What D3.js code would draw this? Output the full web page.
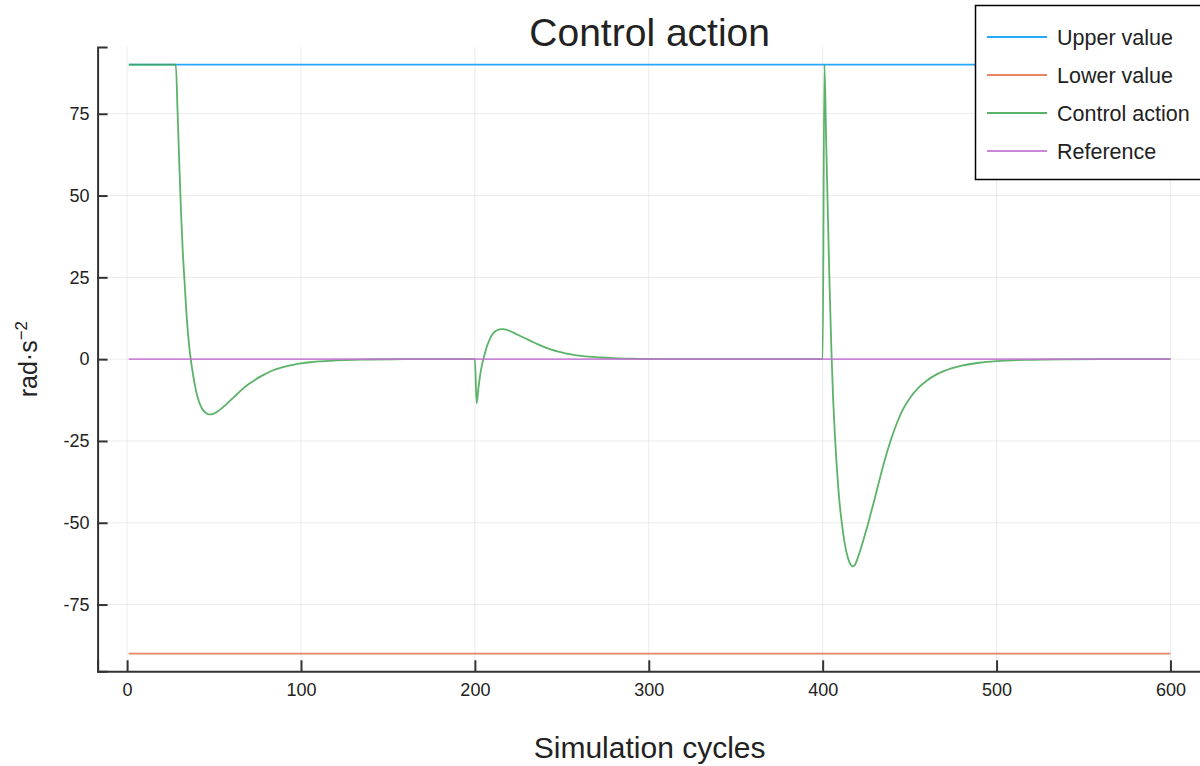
<!DOCTYPE html>
<html>
<head>
<meta charset="utf-8">
<script src="https://cdn.jsdelivr.net/npm/d3@7"></script>
<style>
  html, body { margin: 0; padding: 0; background: #fff; }
  svg { display: block; font-family: "Liberation Sans", Arial, Helvetica, sans-serif; }
</style>
</head>
<body>
<svg id="chart" width="1200" height="766"></svg>
<script>
// Constant bounds and set-point over the whole run
const boundCycles = [1, 600];
const upperValues = [90, 90];
const lowerValues = [-90, -90];
const referenceValues = [0, 0];

// Control action samples (cycle, rad·s⁻²)
const controlCycles = [
  1, 28, 29, 30, 31, 32, 33, 34, 35, 36, 37, 38, 39, 40, 41, 42, 43, 44, 45, 46, 47, 48, 49, 50,
  52, 54, 56, 58, 60, 63, 66, 69, 72, 76, 80, 84, 88, 92, 96, 100, 105, 110, 120, 130, 140, 160, 180,
  200, 201, 202, 203, 204, 205, 206, 207, 208, 209, 210, 212, 214, 216, 218, 220, 224, 228, 232, 236,
  240, 244, 248, 252, 256, 260, 265, 272, 280, 290, 300, 320,
  400, 401, 402, 403, 404, 405, 406, 407, 408, 409, 410, 411, 412, 413, 414, 415, 416, 417, 418, 419,
  420, 422, 424, 426, 428, 430, 433, 436, 439, 442, 446, 450, 455, 460, 465, 470, 480, 490, 500, 520,
  540, 560, 600
];
const controlValues = [
  90, 90, 76, 60, 45, 33, 24, 15, 8, 2.5, -1.5, -5, -8, -10.5, -12.4, -13.9, -15, -15.8, -16.3, -16.7, -16.9, -16.9, -16.8, -16.6,
  -16, -15.2, -14.3, -13.3, -12.3, -10.8, -9.3, -8, -6.9, -5.5, -4.4, -3.4, -2.7, -2.1, -1.65, -1.3, -0.95, -0.7, -0.4, -0.2, -0.1, -0.02, 0,
  0, -13.5, -9, -5, -2, 0.3, 2.2, 4, 5.4, 6.6, 7.5, 8.6, 9.1, 9.2, 9.0, 8.6, 7.6, 6.6, 5.6, 4.6,
  3.7, 2.9, 2.3, 1.8, 1.4, 1.05, 0.75, 0.5, 0.3, 0.15, 0.07, 0,
  0, 90, 67, 44, 22, 3, -12, -23, -32, -39.5, -45.5, -50, -54, -57.2, -59.7, -61.5, -62.7, -63.3, -63.2, -62.4,
  -61, -57.8, -54.2, -50.5, -46.5, -42.5, -36.2, -30.3, -25, -20.5, -15.5, -12, -8.8, -6.5, -4.8, -3.6, -2.0, -1.1, -0.6, -0.2,
  -0.05, 0, 0
];

const seriesNames = ["Upper value", "Lower value", "Control action", "Reference"];
const seriesColors = ["#009AFA", "#E36F47", "#3EA44E", "#C371D2"];

const xTicks = [0, 100, 200, 300, 400, 500, 600];
const yTicks = [-75, -50, -25, 0, 25, 50, 75];

(function draw() {
  const svg = d3.select("#chart");

  // Plot frame
  const frameLeft = 97.6, frameRight = 1201.7, frameTop = 47, frameBottom = 671.3;

  // Data extents widened by 3% on each side
  const x = d3.scaleLinear().domain([1 - 0.03 * 599, 600 + 0.03 * 599]).range([frameLeft, frameRight]);
  const y = d3.scaleLinear().domain([-95.4, 95.4]).range([frameBottom, frameTop]);

  // Grid
  const grid = svg.append("g").attr("stroke", "#000").attr("stroke-opacity", 0.08).attr("stroke-width", 1);
  grid.selectAll("line.gx").data(xTicks).join("line").attr("class", "gx")
    .attr("x1", d => x(d)).attr("x2", d => x(d)).attr("y1", frameTop).attr("y2", frameBottom);
  grid.selectAll("line.gy").data(yTicks).join("line").attr("class", "gy")
    .attr("x1", frameLeft).attr("x2", frameRight).attr("y1", d => y(d)).attr("y2", d => y(d));

  // Axes with inward ticks
  const xAxis = d3.axisBottom(x).tickValues(xTicks).tickSize(-11).tickPadding(12).tickFormat(d3.format("d"));
  const yAxis = d3.axisLeft(y).tickValues(yTicks).tickSize(-10).tickPadding(8).tickFormat(d3.format("d"));

  const gx = svg.append("g").attr("transform", `translate(0,${frameBottom})`).call(xAxis);
  const gy = svg.append("g").attr("transform", `translate(${frameLeft},0)`).call(yAxis);
  [gx, gy].forEach(g => {
    g.select(".domain").attr("stroke", "#333").attr("stroke-width", 2);
    g.selectAll(".tick line").attr("stroke", "#333").attr("stroke-width", 2);
    g.selectAll(".tick text").attr("fill", "#222").attr("font-size", 18)
      .attr("font-family", "Liberation Sans, Arial, sans-serif");
  });
  gy.selectAll(".tick text").text(d => d < 0 ? "-" + Math.abs(d) : d);

  // Series lines
  const line = d3.line().x(d => x(d[0])).y(d => y(d[1]));
  const lineSmooth = d3.line().x(d => x(d[0])).y(d => y(d[1])).curve(d3.curveMonotoneX);

  const series = [
    { pts: d3.zip(boundCycles, upperValues), gen: line },
    { pts: d3.zip(boundCycles, lowerValues), gen: line },
    { pts: d3.zip(controlCycles, controlValues), gen: lineSmooth },
    { pts: d3.zip(boundCycles, referenceValues), gen: line }
  ];

  const plot = svg.append("g");
  series.forEach((s, i) => {
    plot.append("path")
      .attr("d", s.gen(s.pts))
      .attr("fill", "none")
      .attr("stroke", seriesColors[i])
      .attr("stroke-width", 1.8)
      .attr("stroke-opacity", 0.85)
      .attr("stroke-linejoin", "round");
  });

  // Title and axis labels
  svg.append("text").attr("x", (frameLeft + frameRight) / 2).attr("y", 46)
    .attr("text-anchor", "middle").attr("font-size", 39).attr("fill", "#222")
    .text("Control action");

  svg.append("text").attr("x", (frameLeft + frameRight) / 2).attr("y", 758)
    .attr("text-anchor", "middle").attr("font-size", 30).attr("fill", "#222")
    .text("Simulation cycles");

  const yl = svg.append("text")
    .attr("transform", `translate(37,${(frameTop + frameBottom) / 2}) rotate(-90)`)
    .attr("text-anchor", "middle").attr("font-size", 25).attr("fill", "#222");
  yl.append("tspan").text("rad·s");
  yl.append("tspan").attr("font-size", 17).attr("dy", -10).text("−2");

  // Legend
  const legend = svg.append("g");
  legend.append("rect").attr("x", 975.5).attr("y", 5.5).attr("width", 240).attr("height", 174)
    .attr("fill", "#fff").attr("stroke", "#000").attr("stroke-width", 1.5);
  const rowY = [37, 75, 113, 151];
  seriesNames.forEach((name, i) => {
    legend.append("line").attr("x1", 987).attr("x2", 1047).attr("y1", rowY[i]).attr("y2", rowY[i])
      .attr("stroke", seriesColors[i]).attr("stroke-width", 1.8).attr("stroke-opacity", 0.85);
    legend.append("text").attr("x", 1057).attr("y", rowY[i]).attr("dy", "0.35em")
      .attr("font-size", 21.5).attr("fill", "#222").text(name);
  });
})();
</script>
</body>
</html>
